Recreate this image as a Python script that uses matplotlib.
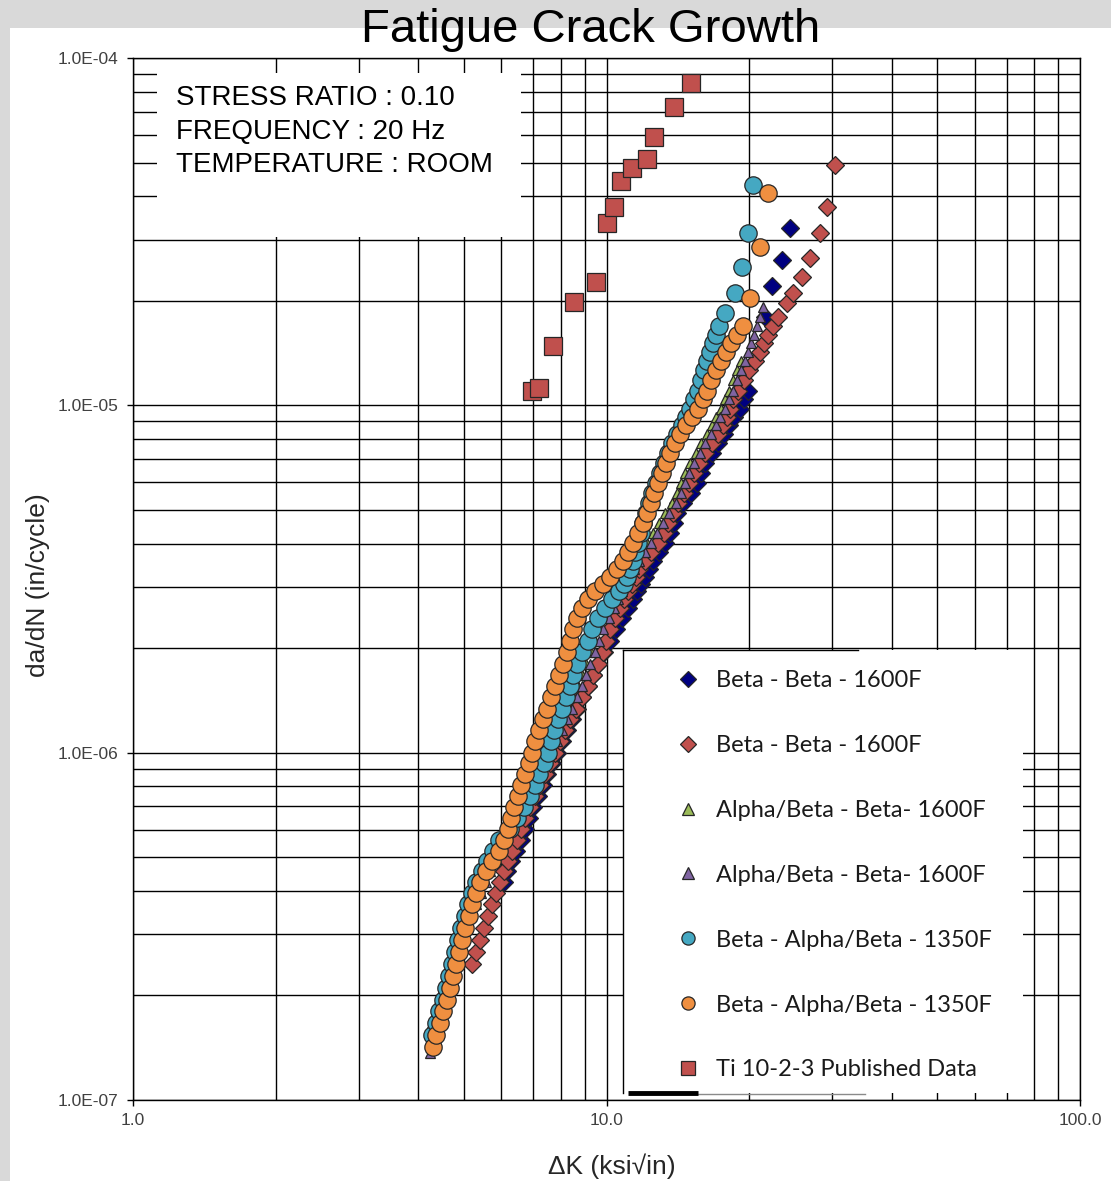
import matplotlib
matplotlib.use("Agg")
import matplotlib.pyplot as plt
from matplotlib.patches import Rectangle
from matplotlib.ticker import FixedLocator, FixedFormatter, LogLocator, NullFormatter
from matplotlib import font_manager

# ---------------- data ----------------
title = "Fatigue Crack Growth"
x_label = "\u0394K (ksi\u221ain)"
y_label = "da/dN (in/cycle)"
x_ticks = [1.0, 10.0, 100.0]
x_tick_labels = ["1.0", "10.0", "100.0"]
y_ticks = [1e-7, 1e-6, 1e-5, 1e-4]
y_tick_labels = ["1.0E-07", "1.0E-06", "1.0E-05", "1.0E-04"]
box_lines = ["STRESS RATIO : 0.10", "FREQUENCY : 20 Hz", "TEMPERATURE : ROOM"]
series_names = ["Beta - Beta - 1600F", "Beta - Beta - 1600F",
                "Alpha/Beta - Beta- 1600F", "Alpha/Beta - Beta- 1600F",
                "Beta - Alpha/Beta - 1350F", "Beta - Alpha/Beta - 1350F",
                "Ti 10-2-3 Published Data"]

bb1_dk = [6.07, 6.17, 6.28, 6.44, 6.60,
          6.73, 6.86, 7.00, 7.17, 7.34, 7.49, 7.67, 7.86, 8.05, 8.25,
          8.46, 8.66, 8.88, 9.14, 9.37, 9.60, 9.88, 10.17, 10.47, 10.78,
          11.10, 11.38, 11.60, 11.83, 12.06, 12.30, 12.54, 12.91, 13.29, 13.62,
          13.89, 14.09, 14.51, 15.08, 15.53, 15.84, 16.14, 16.71, 17.20, 17.71,
          18.15, 18.59, 19.14, 19.52, 19.90, 21.61, 22.36, 23.48, 24.41]
bb1_rate = [4.24e-7, 4.56e-7, 4.87e-7, 5.21e-7, 5.60e-7,
            6.03e-7, 6.48e-7, 6.97e-7, 7.50e-7, 8.06e-7, 8.68e-7, 9.33e-7, 1.00e-6, 1.08e-6, 1.16e-6,
            1.25e-6, 1.34e-6, 1.45e-6, 1.56e-6, 1.67e-6, 1.80e-6, 1.95e-6, 2.10e-6, 2.27e-6, 2.44e-6,
            2.61e-6, 2.77e-6, 2.92e-6, 3.06e-6, 3.20e-6, 3.38e-6, 3.56e-6, 3.78e-6, 4.01e-6, 4.29e-6,
            4.58e-6, 4.90e-6, 5.23e-6, 5.59e-6, 5.97e-6, 6.38e-6, 6.82e-6, 7.29e-6, 7.79e-6, 8.27e-6,
            8.78e-6, 9.26e-6, 9.76e-6, 1.04e-5, 1.10e-5, 1.80e-5, 2.21e-5, 2.62e-5, 3.24e-5]

bb2_dk = [5.20, 5.30, 5.41, 5.51, 5.62, 5.73, 5.84, 5.96, 6.07, 6.19,
          6.31, 6.47, 6.60, 6.73, 6.90, 7.06, 7.24, 7.42, 7.60, 7.79,
          7.98, 8.17, 8.37, 8.62, 8.88, 9.14, 9.37, 9.60, 9.83, 9.98,
          10.17, 10.42, 10.68, 10.89, 11.10, 11.32, 11.54, 11.71, 12.06, 12.42,
          12.85, 13.23, 13.49, 13.82, 14.16, 14.58, 14.94, 15.30, 15.68, 16.14,
          16.71, 17.20, 17.62, 17.97, 18.23, 18.50, 18.96, 19.52, 20.00, 20.59,
          21.10, 21.51, 21.93, 22.47, 23.02, 24.06, 24.77, 25.88, 26.91, 28.25,
          29.23, 30.38]
bb2_rate = [2.46e-7, 2.67e-7, 2.89e-7, 3.13e-7, 3.39e-7, 3.66e-7, 3.94e-7, 4.24e-7, 4.56e-7, 4.87e-7,
            5.21e-7, 5.60e-7, 6.03e-7, 6.48e-7, 6.97e-7, 7.50e-7, 8.06e-7, 8.68e-7, 9.33e-7, 1.00e-6,
            1.08e-6, 1.16e-6, 1.25e-6, 1.34e-6, 1.45e-6, 1.56e-6, 1.67e-6, 1.80e-6, 1.95e-6, 2.10e-6,
            2.27e-6, 2.44e-6, 2.61e-6, 2.77e-6, 2.92e-6, 3.06e-6, 3.20e-6, 3.38e-6, 3.56e-6, 3.78e-6,
            4.01e-6, 4.29e-6, 4.58e-6, 4.90e-6, 5.23e-6, 5.59e-6, 5.97e-6, 6.38e-6, 6.82e-6, 7.29e-6,
            7.79e-6, 8.27e-6, 8.78e-6, 9.26e-6, 9.76e-6, 1.04e-5, 1.10e-5, 1.18e-5, 1.26e-5, 1.34e-5,
            1.42e-5, 1.51e-5, 1.59e-5, 1.69e-5, 1.80e-5, 1.97e-5, 2.11e-5, 2.34e-5, 2.66e-5, 3.13e-5,
            3.72e-5, 4.92e-5]

abb1_dk = [4.28, 4.36, 4.43, 4.52, 4.60, 4.69, 4.79, 4.88, 4.98, 5.08,
           5.20, 5.33, 5.46, 5.57, 5.70, 5.84, 5.99, 6.13, 6.28, 6.47,
           6.66, 6.86, 7.06, 7.27, 7.49, 7.71, 7.90, 8.09, 8.29, 8.50,
           8.71, 8.88, 9.05, 9.28, 9.46, 9.64, 9.93, 10.17, 10.37, 10.57,
           10.78, 11.00, 11.21, 11.49, 11.83, 12.18, 12.54, 12.91, 13.29, 13.75,
           14.09, 14.37, 14.65, 15.01, 15.45, 15.84, 16.30, 16.71, 17.03, 17.45,
           17.80, 18.15, 18.50, 18.87, 19.24]
abb1_rate = [1.665e-7, 1.80e-7, 1.94e-7, 2.10e-7, 2.27e-7, 2.46e-7, 2.67e-7, 2.89e-7, 3.13e-7, 3.39e-7,
             3.66e-7, 3.94e-7, 4.24e-7, 4.56e-7, 4.87e-7, 5.21e-7, 5.60e-7, 6.03e-7, 6.48e-7, 6.97e-7,
             7.50e-7, 8.06e-7, 8.68e-7, 9.33e-7, 1.00e-6, 1.08e-6, 1.16e-6, 1.25e-6, 1.34e-6, 1.45e-6,
             1.56e-6, 1.67e-6, 1.80e-6, 1.95e-6, 2.10e-6, 2.27e-6, 2.44e-6, 2.61e-6, 2.77e-6, 2.92e-6,
             3.06e-6, 3.20e-6, 3.38e-6, 3.56e-6, 3.78e-6, 4.01e-6, 4.29e-6, 4.58e-6, 4.90e-6, 5.23e-6,
             5.59e-6, 5.97e-6, 6.38e-6, 6.82e-6, 7.29e-6, 7.79e-6, 8.27e-6, 8.78e-6, 9.26e-6, 9.76e-6,
             1.04e-5, 1.10e-5, 1.18e-5, 1.26e-5, 1.34e-5]

abb2_dk = [4.24, 4.30, 4.36, 4.45, 4.52, 4.60, 4.69, 4.79, 4.88, 4.98, 5.08,
           5.17, 5.30, 5.43, 5.57, 5.68, 5.81, 5.96, 6.10, 6.25, 6.41,
           6.60, 6.79, 7.00, 7.20, 7.42, 7.64, 7.86, 8.05, 8.25, 8.46,
           8.66, 8.88, 9.05, 9.23, 9.46, 9.64, 9.83, 10.12, 10.37, 10.57,
           10.78, 11.00, 11.21, 11.43, 11.71, 12.06, 12.42, 12.79, 13.16, 13.55,
           14.02, 14.37, 14.65, 14.94, 15.30, 15.76, 16.14, 16.62, 17.03, 17.37,
           17.80, 18.15, 18.50, 18.87, 19.24, 19.62, 19.90, 20.20, 20.49, 20.79,
           21.10, 21.40]
abb2_rate = [1.37e-7, 1.54e-7, 1.665e-7, 1.80e-7, 1.94e-7, 2.10e-7, 2.27e-7, 2.46e-7, 2.67e-7, 2.89e-7, 3.13e-7,
             3.39e-7, 3.66e-7, 3.94e-7, 4.24e-7, 4.56e-7, 4.87e-7, 5.21e-7, 5.60e-7, 6.03e-7, 6.48e-7,
             6.97e-7, 7.50e-7, 8.06e-7, 8.68e-7, 9.33e-7, 1.00e-6, 1.08e-6, 1.16e-6, 1.25e-6, 1.34e-6,
             1.45e-6, 1.56e-6, 1.67e-6, 1.80e-6, 1.95e-6, 2.10e-6, 2.27e-6, 2.44e-6, 2.61e-6, 2.77e-6,
             2.92e-6, 3.06e-6, 3.20e-6, 3.38e-6, 3.56e-6, 3.78e-6, 4.01e-6, 4.29e-6, 4.58e-6, 4.90e-6,
             5.23e-6, 5.59e-6, 5.97e-6, 6.38e-6, 6.82e-6, 7.29e-6, 7.79e-6, 8.27e-6, 8.78e-6, 9.26e-6,
             9.76e-6, 1.04e-5, 1.10e-5, 1.18e-5, 1.26e-5, 1.34e-5, 1.42e-5, 1.51e-5, 1.59e-5, 1.69e-5,
             1.80e-5, 1.92e-5]

bab1_dk = [4.28, 4.36, 4.43, 4.52, 4.58, 4.65, 4.72, 4.79, 4.86, 4.93,
           5.03, 5.10, 5.20, 5.30, 5.46, 5.59, 5.76, 5.93, 6.25, 6.47,
           6.70, 6.90, 7.06, 7.20, 7.38, 7.52, 7.64, 7.75, 7.90, 8.05,
           8.21, 8.37, 8.50, 8.66, 8.88, 9.14, 9.32, 9.60, 9.93, 10.27,
           10.63, 10.89, 11.05, 11.21, 11.38, 11.49, 11.66, 11.83, 11.94, 12.12,
           12.30, 12.48, 12.73, 12.97, 13.23, 13.49, 13.75, 14.09, 14.44, 14.72,
           15.01, 15.30, 15.61, 15.84, 16.07, 16.30, 16.54, 16.79, 17.03, 17.28,
           17.80, 18.68, 19.33, 19.90, 20.39]
bab1_rate = [1.54e-7, 1.665e-7, 1.80e-7, 1.94e-7, 2.10e-7, 2.27e-7, 2.46e-7, 2.67e-7, 2.89e-7, 3.13e-7,
             3.39e-7, 3.66e-7, 3.94e-7, 4.24e-7, 4.56e-7, 4.87e-7, 5.21e-7, 5.60e-7, 6.03e-7, 6.48e-7,
             6.97e-7, 7.50e-7, 8.06e-7, 8.68e-7, 9.33e-7, 1.00e-6, 1.08e-6, 1.16e-6, 1.25e-6, 1.34e-6,
             1.45e-6, 1.56e-6, 1.67e-6, 1.80e-6, 1.95e-6, 2.10e-6, 2.27e-6, 2.44e-6, 2.61e-6, 2.77e-6,
             2.92e-6, 3.06e-6, 3.20e-6, 3.38e-6, 3.56e-6, 3.78e-6, 4.01e-6, 4.29e-6, 4.58e-6, 4.90e-6,
             5.23e-6, 5.59e-6, 5.97e-6, 6.38e-6, 6.82e-6, 7.29e-6, 7.79e-6, 8.27e-6, 8.78e-6, 9.26e-6,
             9.76e-6, 1.04e-5, 1.10e-5, 1.18e-5, 1.26e-5, 1.34e-5, 1.42e-5, 1.51e-5, 1.59e-5, 1.69e-5,
             1.84e-5, 2.11e-5, 2.50e-5, 3.13e-5, 4.31e-5]

bab2_dk = [4.30, 4.36, 4.45, 4.52, 4.60, 4.67, 4.74, 4.81, 4.88, 4.95,
           5.03, 5.12, 5.20, 5.30, 5.41, 5.57, 5.73, 5.93, 6.07, 6.19,
           6.28, 6.38, 6.50, 6.60, 6.73, 6.86, 6.96, 7.06, 7.20, 7.34,
           7.49, 7.64, 7.79, 7.94, 8.09, 8.25, 8.37, 8.50, 8.66, 8.88,
           9.14, 9.46, 9.83, 10.17, 10.52, 10.84, 11.10, 11.38, 11.66, 11.94,
           12.18, 12.42, 12.60, 12.85, 13.10, 13.36, 13.62, 13.96, 14.30, 14.72,
           15.16, 15.61, 16.00, 16.30, 16.62, 17.03, 17.45, 17.88, 18.32, 18.87,
           19.43, 20.10, 21.10, 21.93]
bab2_rate = [1.42e-7, 1.54e-7, 1.665e-7, 1.80e-7, 1.94e-7, 2.10e-7, 2.27e-7, 2.46e-7, 2.67e-7, 2.89e-7,
             3.13e-7, 3.39e-7, 3.66e-7, 3.94e-7, 4.24e-7, 4.56e-7, 4.87e-7, 5.21e-7, 5.60e-7, 6.03e-7,
             6.48e-7, 6.97e-7, 7.50e-7, 8.06e-7, 8.68e-7, 9.33e-7, 1.00e-6, 1.08e-6, 1.16e-6, 1.25e-6,
             1.34e-6, 1.45e-6, 1.56e-6, 1.67e-6, 1.80e-6, 1.95e-6, 2.10e-6, 2.27e-6, 2.44e-6, 2.61e-6,
             2.77e-6, 2.92e-6, 3.06e-6, 3.20e-6, 3.38e-6, 3.56e-6, 3.78e-6, 4.01e-6, 4.29e-6, 4.58e-6,
             4.90e-6, 5.23e-6, 5.59e-6, 5.97e-6, 6.38e-6, 6.82e-6, 7.29e-6, 7.79e-6, 8.27e-6, 8.78e-6,
             9.26e-6, 9.76e-6, 1.04e-5, 1.10e-5, 1.18e-5, 1.26e-5, 1.34e-5, 1.42e-5, 1.51e-5, 1.59e-5,
             1.69e-5, 2.04e-5, 2.86e-5, 4.09e-5]

ti_dk = [6.95, 7.21, 7.70, 8.55, 9.50, 10.04, 10.37, 10.71, 11.34, 12.18, 12.60, 13.89, 15.06]
ti_rate = [1.10e-5, 1.12e-5, 1.48e-5, 1.99e-5, 2.27e-5, 3.34e-5, 3.73e-5, 4.41e-5, 4.81e-5,
           5.12e-5, 5.92e-5, 7.21e-5, 8.49e-5]

# ---------------- styling ----------------
plt.rcParams['font.family'] = ['Liberation Sans', 'DejaVu Sans']
avail = {f.name for f in font_manager.fontManager.ttflist}
legend_family = [f for f in ['Lato', 'Open Sans', 'Noto Sans'] if f in avail][:1] + ['DejaVu Sans']

W, H = 1111, 1181
fig = plt.figure(figsize=(W / 100, H / 100), dpi=100)
fig.patch.set_facecolor('#d9d9d9')
fig.patches.append(Rectangle((10 / W, 0), 1 - 10 / W, 1 - 28 / H, transform=fig.transFigure,
                             facecolor='white', edgecolor='none', zorder=-10))

ax_l, ax_r, ax_t, ax_b = 133, 1080, 58, 1100
ax = fig.add_axes([ax_l / W, 1 - ax_b / H, (ax_r - ax_l) / W, (ax_b - ax_t) / H])
ax.set_facecolor('white')
ax.set_xscale('log')
ax.set_yscale('log')
ax.set_xlim(1, 100)
ax.set_ylim(1e-7, 1e-4)

ax.xaxis.set_major_locator(FixedLocator(x_ticks))
ax.xaxis.set_major_formatter(FixedFormatter(x_tick_labels))
ax.yaxis.set_major_locator(FixedLocator(y_ticks))
ax.yaxis.set_major_formatter(FixedFormatter(y_tick_labels))
ax.xaxis.set_minor_locator(LogLocator(base=10, subs=range(2, 10)))
ax.yaxis.set_minor_locator(LogLocator(base=10, subs=range(2, 10)))
ax.xaxis.set_minor_formatter(NullFormatter())
ax.yaxis.set_minor_formatter(NullFormatter())
ax.tick_params(which='major', direction='out', length=4.5, width=1.0, color='black',
               labelsize=12.5, labelcolor='#404040')
ax.tick_params(axis='y', which='major', pad=6)
ax.tick_params(axis='x', which='major', pad=5)
ax.tick_params(which='minor', length=0)
ax.grid(True, which='both', color='black', linewidth=1.0)
ax.set_axisbelow(True)
for s in ax.spines.values():
    s.set_color('black')
    s.set_linewidth(1.0)

ax.set_xlabel(x_label, fontsize=19, color='#262626', va='center')
ax.xaxis.set_label_coords((612 - ax_l) / (ax_r - ax_l), (ax_b - 1166) / (ax_b - ax_t))
ax.set_ylabel(y_label, fontsize=19, color='#262626', va='center')
ax.yaxis.set_label_coords((38 - ax_l) / (ax_r - ax_l), (ax_b - 585) / (ax_b - ax_t))

fig.text(591 / W, 1 - 30 / H, title, ha='center', va='center', fontsize=34, color='black')

ec = '#262626'
ew = 0.9
h1, = ax.plot(bb1_dk, bb1_rate, ls='none', marker='D', ms=9.5, mfc='#000080', mec=ec, mew=ew, zorder=3)
h2, = ax.plot(bb2_dk, bb2_rate, ls='none', marker='D', ms=9.5, mfc='#c0504d', mec=ec, mew=ew, zorder=3)
h3, = ax.plot(abb1_dk, abb1_rate, ls='none', marker='^', ms=7.5, mfc='#9bbb59', mec=ec, mew=ew, zorder=3)
h4, = ax.plot(abb2_dk, abb2_rate, ls='none', marker='^', ms=7.5, mfc='#8064a2', mec=ec, mew=ew, zorder=3)
h5, = ax.plot(bab1_dk, bab1_rate, ls='none', marker='o', ms=12.5, mfc='#45a8c2', mec=ec, mew=ew, zorder=3)
h6, = ax.plot(bab2_dk, bab2_rate, ls='none', marker='o', ms=12.5, mfc='#ef8f40', mec=ec, mew=ew, zorder=3)
h7, = ax.plot(ti_dk, ti_rate, ls='none', marker='s', ms=12.5, mfc='#c0504d', mec=ec, mew=ew, zorder=3)


def fx(px):
    return (px - ax_l) / (ax_r - ax_l)


def fy(py):
    return (ax_b - py) / (ax_b - ax_t)


# text box (upper left)
ax.add_patch(Rectangle((fx(157), fy(237)), fx(521) - fx(157), fy(73) - fy(237), transform=ax.transAxes,
                       facecolor='white', edgecolor='none', zorder=1))
for line, py in zip(box_lines, [98, 132, 165]):
    ax.text(fx(176), fy(py), line, transform=ax.transAxes, fontsize=20, color='black',
            ha='left', va='center', zorder=4)

# legend panel
ax.add_patch(Rectangle((fx(623), fy(1093)), fx(1023) - fx(623), fy(650) - fy(1093), transform=ax.transAxes,
                       facecolor='white', edgecolor='none', zorder=1))
ax.plot([fx(623), fx(623)], [fy(1093), fy(650)], transform=ax.transAxes, color='black', lw=1.0, zorder=2)
ax.plot([fx(623), fx(858)], [fy(650), fy(650)], transform=ax.transAxes, color='black', lw=1.0, zorder=2)
ax.plot([fx(698), fx(865)], [fy(1094), fy(1094)], transform=ax.transAxes, color='#8a8a8a', lw=1.0, zorder=2)
ax.plot([fx(628), fx(698)], [fy(1093), fy(1093)], transform=ax.transAxes, color='black', lw=3.5,
        solid_capstyle='butt', zorder=2)

leg_fs = 17
fs_px = leg_fs * 100 / 72
leg = ax.legend([h1, h2, h3, h4, h5, h6, h7], series_names, loc='upper left',
                bbox_to_anchor=(fx(688 - fs_px / 2), fy(670)), frameon=False,
                prop={'family': legend_family, 'size': leg_fs}, handlelength=1.0,
                handletextpad=0.69, labelspacing=1.86, borderpad=0, borderaxespad=0,
                numpoints=1, labelcolor='#1a1a1a')
leg.set_zorder(5)
for h, ms in zip(leg.legend_handles, [8, 8, 8, 8, 9.5, 9.5, 9.5]):
    h.set_markersize(ms)

fig.savefig('out.png', dpi=100, facecolor=fig.get_facecolor())
